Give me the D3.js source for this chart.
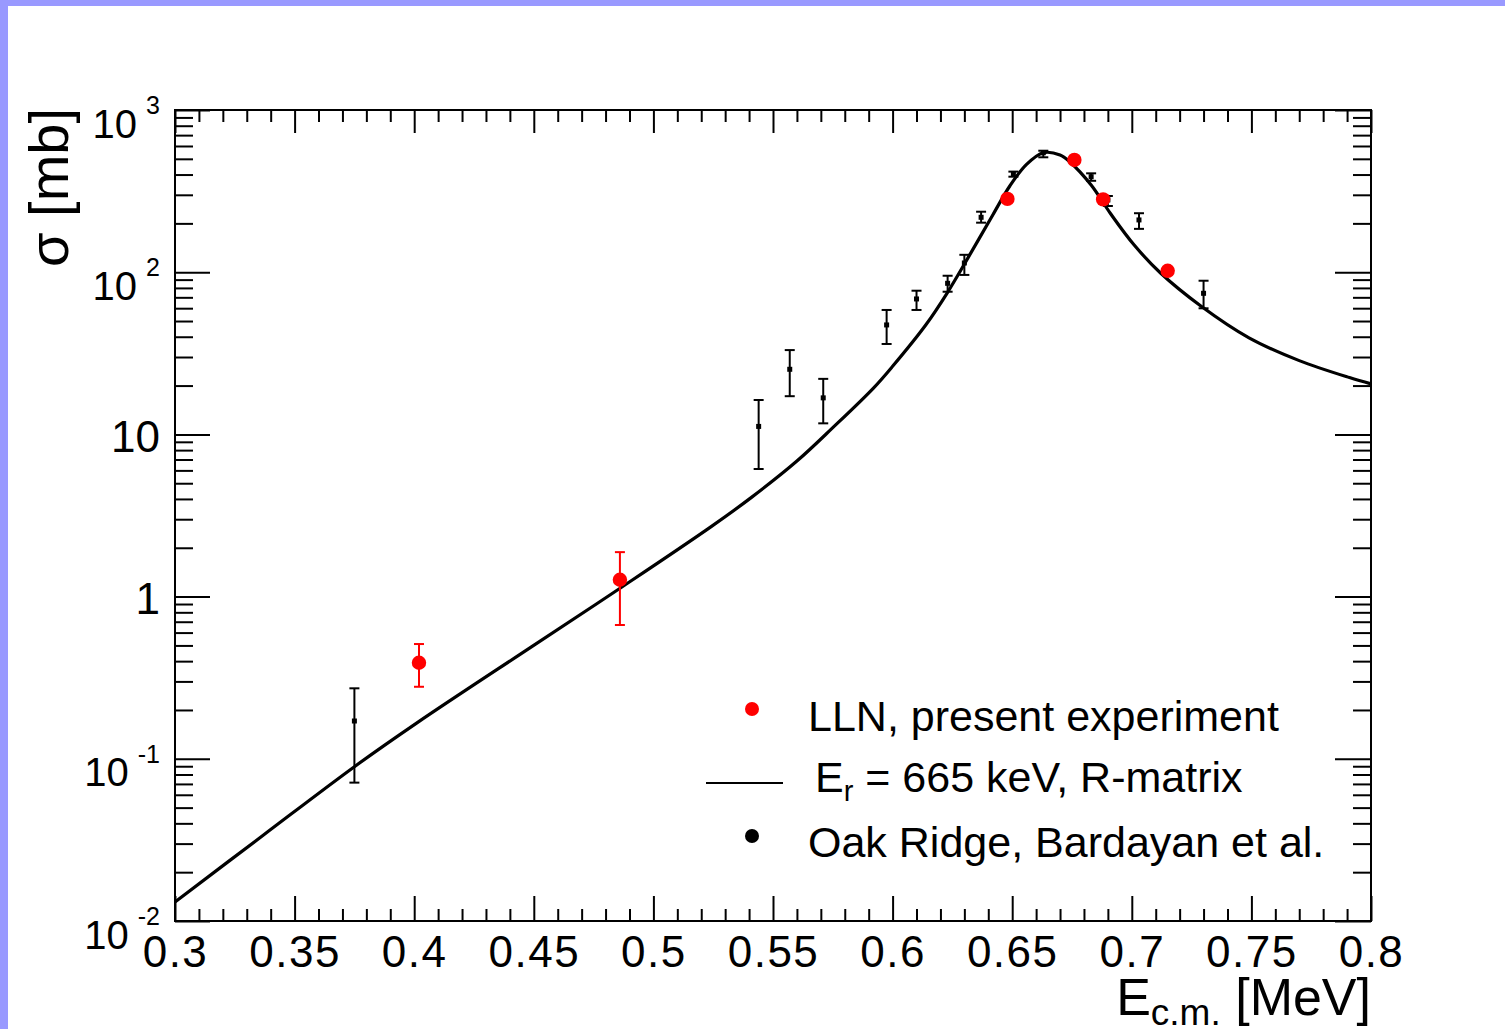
<!DOCTYPE html>
<html lang="en">
<head>
<meta charset="utf-8" />
<title>Cross section vs E c.m.</title>
<script src="https://d3js.org/d3.v7.min.js"></script>
<style>
  body { margin: 0; background: #fff; }
  svg { display: block; font-family: "Liberation Sans", Arial, sans-serif; }
  .tick line { stroke: #000; stroke-width: 2px; }
  .domain { display: none; }
</style>
</head>
<body>
<svg id="chart" width="1505" height="1029"></svg>
<script>
// ---- data ----
// R-matrix curve, Er = 665 keV
const curveE = [0.300, 0.337, 0.375, 0.401, 0.449, 0.487, 0.524, 0.541, 0.560, 0.575,
  0.592, 0.600, 0.614, 0.623, 0.632, 0.642, 0.649, 0.656, 0.663, 0.670, 0.674, 0.683,
  0.691, 0.701, 0.712, 0.729, 0.749, 0.770, 0.791, 0.800];
const curveSigma = [0.0131, 0.0339, 0.0894, 0.166, 0.49, 1.15, 2.69, 4.09, 6.85, 11.0,
  19.3, 26.3, 47.6, 75.2, 126, 227, 340, 462, 545, 528, 480, 345,
  231, 147, 98.9, 61.7, 39.4, 28.5, 22.4, 20.5];

// LLN, present experiment
const llnE = [0.402, 0.486, 0.648, 0.676, 0.688, 0.715];
const llnSigma = [0.391, 1.27, 283, 492, 281, 102];
const llnLo = [0.278, 0.668, 270, 470, 268, 97];
const llnHi = [0.510, 1.88, 296, 514, 294, 107];

// Oak Ridge, Bardayan et al.
const ornlE = [0.375, 0.544, 0.557, 0.571, 0.5975, 0.610, 0.623, 0.630, 0.637,
  0.6505, 0.663, 0.683, 0.690, 0.703, 0.730];
const ornlSigma = [0.171, 11.2, 25.2, 16.8, 47.3, 68.4, 85.4, 114, 218,
  403, 545, 388, 279, 210, 74.1];
const ornlLo = [0.0713, 6.12, 17.2, 11.7, 36.1, 58.5, 75.8, 96.2, 202,
  388, 511, 366, 256, 185, 59.9];
const ornlHi = [0.272, 16.3, 33.1, 22.0, 58.5, 76.9, 95.1, 128, 236,
  417, 561, 407, 295, 231, 88.6];

const xTicks = [0.3, 0.35, 0.4, 0.45, 0.5, 0.55, 0.6, 0.65, 0.7, 0.75, 0.8];
const xTickLabels = ["0.3", "0.35", "0.4", "0.45", "0.5", "0.55", "0.6", "0.65", "0.7", "0.75", "0.8"];
const yTicks = [1e-2, 1e-1, 1, 10, 1e2, 1e3];
const yTickBase = ["10", "10", "1", "10", "10", "10"];
const yTickExp = ["-2", "-1", "", "", "2", "3"];

// ---- layout ----
const svg = d3.select("#chart");
const W = 1505, H = 1029;
const frameL = 175, frameR = 1371, frameT = 110, frameB = 921;

svg.append("rect").attr("width", W).attr("height", H).attr("fill", "#fff");
svg.append("rect").attr("width", W).attr("height", 6).attr("fill", "#9999ff");
svg.append("rect").attr("width", 8).attr("height", H).attr("fill", "#9999ff");

const x = d3.scaleLinear().domain([0.3, 0.8]).range([frameL, frameR]);
const y = d3.scaleLog().domain([1e-2, 1e3]).range([frameB, frameT]);

// minor tick positions
const xMinor = d3.range(0, 51).filter(i => i % 5 !== 0).map(i => 0.3 + i * 0.01);
const yMinor = [];
for (let k = -2; k <= 2; k++) for (let m = 2; m <= 9; m++) yMinor.push(m * Math.pow(10, k));

// ---- axes (ticks inward on all four sides) ----
const gx = svg.append("g").attr("transform", `translate(0,${frameB})`);
gx.call(d3.axisBottom(x).tickValues(xMinor).tickSize(-12).tickFormat(""));
gx.append("g").call(d3.axisBottom(x).tickValues(xTicks).tickSize(-25).tickPadding(15)
    .tickFormat((d, i) => xTickLabels[i]))
  .selectAll("text")
  .attr("fill", "#000")
  .style("font-size", "44px")
  .style("letter-spacing", "1.5px")
  .style("font-family", "'Liberation Sans', Arial, sans-serif");

const gt = svg.append("g").attr("transform", `translate(0,${frameT})`);
gt.call(d3.axisTop(x).tickValues(xMinor).tickSize(-12).tickFormat(""));
gt.append("g").call(d3.axisTop(x).tickValues(xTicks).tickSize(-23).tickFormat(""));

const gy = svg.append("g").attr("transform", `translate(${frameL},0)`);
gy.call(d3.axisLeft(y).tickValues(yMinor).tickSize(-18).tickFormat(""));
gy.append("g").call(d3.axisLeft(y).tickValues(yTicks).tickSize(-35).tickFormat(""));

const gr = svg.append("g").attr("transform", `translate(${frameR},0)`);
gr.call(d3.axisRight(y).tickValues(yMinor).tickSize(-18).tickFormat(""));
gr.append("g").call(d3.axisRight(y).tickValues(yTicks).tickSize(-36).tickFormat(""));

// frame
svg.append("rect")
  .attr("x", frameL).attr("y", frameT)
  .attr("width", frameR - frameL).attr("height", frameB - frameT)
  .attr("fill", "none").attr("stroke", "#000").attr("stroke-width", 2);

// y tick labels (10^n style)
yTicks.forEach((v, i) => {
  const t = svg.append("text")
    .attr("x", 160)
    .attr("text-anchor", "end")
    .attr("fill", "#000");
  if (yTickExp[i]) {
    t.attr("y", y(v) + 27.5).style("font-size", "40px").text(yTickBase[i]);
    t.append("tspan").attr("dx", 9).attr("dy", -23.5)
      .style("font-size", "25px").text(yTickExp[i]);
  } else {
    t.attr("y", y(v) + 17.5).style("font-size", "44px").text(yTickBase[i]);
  }
});

// axis titles
const xt = svg.append("text")
  .attr("x", frameR).attr("y", 1015)
  .attr("text-anchor", "end")
  .style("font-size", "52px")
  .text("E");
xt.append("tspan").attr("dy", 10).style("font-size", "37px").text("c.m.");
xt.append("tspan").attr("dy", -10).text(" [MeV]");

svg.append("text")
  .attr("transform", "translate(68,108) rotate(-90)")
  .attr("text-anchor", "end")
  .style("font-size", "56px")
  .text("σ [mb]");

// ---- R-matrix curve ----
const plot = svg.append("g");
const line = d3.line()
  .x(d => x(d[0]))
  .y(d => y(d[1]))
  .curve(d3.curveCatmullRom.alpha(0.5));

plot.append("path")
  .datum(curveE.map((e, i) => [e, curveSigma[i]]))
  .attr("d", line)
  .attr("fill", "none")
  .attr("stroke", "#000")
  .attr("stroke-width", 3.2);

// ---- error bars + markers ----
function errorBars(E, lo, hi, color, cap) {
  const g = plot.append("g").attr("stroke", color).attr("stroke-width", 2);
  E.forEach((e, i) => {
    const cx = x(e);
    g.append("line").attr("x1", cx).attr("x2", cx).attr("y1", y(lo[i])).attr("y2", y(hi[i]));
    g.append("line").attr("x1", cx - cap).attr("x2", cx + cap).attr("y1", y(lo[i])).attr("y2", y(lo[i]));
    g.append("line").attr("x1", cx - cap).attr("x2", cx + cap).attr("y1", y(hi[i])).attr("y2", y(hi[i]));
  });
}

errorBars(ornlE, ornlLo, ornlHi, "#000", 5);
plot.append("g").selectAll("rect")
  .data(ornlE)
  .join("rect")
  .attr("x", d => x(d) - 2.5)
  .attr("y", (d, i) => y(ornlSigma[i]) - 2.5)
  .attr("width", 5).attr("height", 5)
  .attr("fill", "#000");

errorBars(llnE, llnLo, llnHi, "#ff0000", 5);
plot.append("g").selectAll("circle")
  .data(llnE)
  .join("circle")
  .attr("cx", d => x(d))
  .attr("cy", (d, i) => y(llnSigma[i]))
  .attr("r", 7.2)
  .attr("fill", "#ff0000");

// ---- legend ----
const leg = svg.append("g").style("font-size", "43px");
leg.append("circle").attr("cx", 752).attr("cy", 709).attr("r", 7).attr("fill", "#ff0000");
leg.append("text").attr("x", 808).attr("y", 731).text("LLN, present experiment");

leg.append("line").attr("x1", 706).attr("x2", 783).attr("y1", 783).attr("y2", 783)
  .attr("stroke", "#000").attr("stroke-width", 2);
const le = leg.append("text").attr("x", 815).attr("y", 792).text("E");
le.append("tspan").attr("dy", 9).style("font-size", "29px").text("r");
le.append("tspan").attr("dy", -9).text(" = 665 keV, R-matrix");

leg.append("circle").attr("cx", 752).attr("cy", 836).attr("r", 7).attr("fill", "#000");
leg.append("text").attr("x", 808).attr("y", 857).text("Oak Ridge, Bardayan et al.");
</script>
</body>
</html>
